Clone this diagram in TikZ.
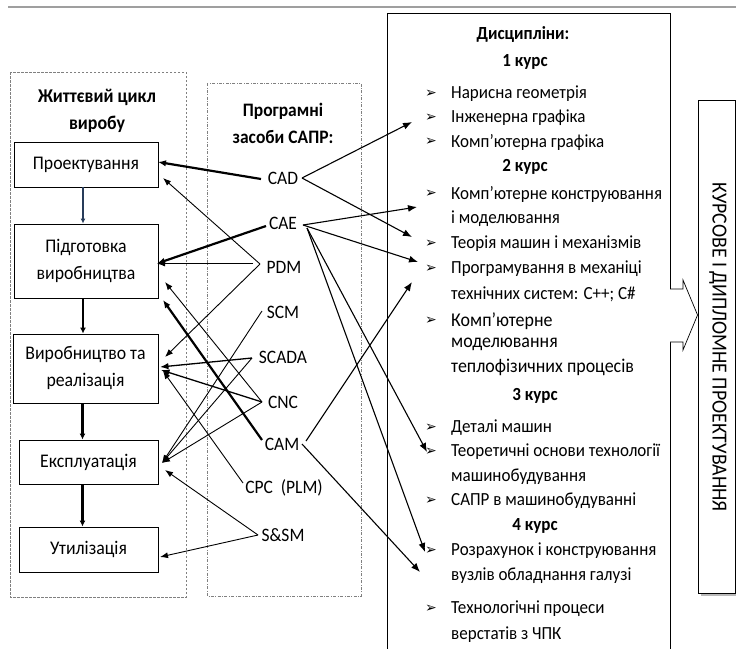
\documentclass[tikz,border=0pt]{standalone}
\usepackage{fontspec}
\setmainfont{Carlito}[FakeStretch=0.92]
\newfontfamily\bulletfont{DejaVu Sans}
\usetikzlibrary{arrows.meta}
\begin{document}
\begin{tikzpicture}[x=1pt,y=-1pt,
  lcbox/.style={draw, line width=0.9pt, align=center, inner sep=0pt,
    font=\fontsize{19.3}{27}\selectfont},
  lbl/.style={font=\fontsize{19}{20}\selectfont, inner sep=0pt},
  title/.style={font=\bfseries\fontsize{19.5}{27}\selectfont, align=center, inner sep=0pt},
  itm/.style={anchor=west, font=\fontsize{18.5}{20}\selectfont, inner sep=0pt},
  bigitm/.style={anchor=west, font=\fontsize{19.5}{21}\selectfont, inner sep=0pt},
  hd/.style={font=\bfseries\fontsize{18.5}{20}\selectfont, inner sep=0pt},
  bul/.style={font=\bulletfont\fontsize{14}{14}\selectfont, inner sep=0pt},
  thinarr/.style={line width=0.9pt, -{Latex[length=8pt,width=6pt]}},
  medarr/.style={line width=1.3pt, -{Latex[length=8.5pt,width=6.5pt]}},
  thickarr/.style={line width=2.2pt, -{Latex[length=8pt,width=6.5pt]}},
  rarr/.style={line width=1.1pt, -{Latex[length=9pt,width=7pt]}},
  vbox/.style={line width=2.6pt, -{Latex[length=6pt,width=6pt]}}
]
\useasboundingbox (0,0) rectangle (736,648);

% top rule
\draw[gray!75, line width=1.2pt] (8,7) -- (736,7);

% group frames
\draw[gray, line width=0.6pt, dash pattern=on 2.5pt off 1.5pt] (10,72) rectangle (186,597);
\draw[gray, line width=0.6pt, dash pattern=on 3pt off 1.5pt on 0.8pt off 1.5pt] (207,83) rectangle (361,596);

% titles
\node[title] (t1) at (97,111) {Життєвий цикл\\виробу};
\node[title, font=\bfseries\fontsize{19}{27}\selectfont] (t2) at (283,123) {Програмні\\засоби САПР:};

% life-cycle boxes
\node[lcbox, minimum width=144pt, minimum height=45pt] (proj) at (86,164.5) {Проектування};
\node[lcbox, minimum width=144pt, minimum height=74pt] (pid) at (86,261) {Підготовка\\виробництва};
\node[lcbox, minimum width=145pt, minimum height=69pt] (vyr) at (85.5,368.5) {Виробництво та\\реалізація};
\node[lcbox, minimum width=139pt, minimum height=44pt] (eks) at (88.5,462) {Експлуатація};
\node[lcbox, minimum width=139pt, minimum height=45pt] (uti) at (88.5,549.5) {Утилізація};

\draw[line width=2pt, draw={rgb,255:red,40;green,60;blue,90}, -{Latex[length=5pt,width=5pt]}] ([xshift=-3pt]proj.south) -- ([xshift=-3pt]proj.south |- pid.north);
\draw[vbox] ([xshift=-3pt]pid.south) -- ([xshift=-3pt]pid.south |- vyr.north);
\draw[vbox] ([xshift=-3pt]vyr.south) -- ([xshift=-3pt]vyr.south |- eks.north);
\draw[vbox] ([xshift=-6pt]eks.south) -- ([xshift=-6pt]eks.south |- uti.north);

% CAD tool labels
\node[lbl] (CAD) at (283,178) {CAD};
\node[lbl] (CAE) at (283,223) {CAE};
\node[lbl] (PDM) at (284,267) {PDM};
\node[lbl] (SCM) at (283,312) {SCM};
\node[lbl] (SCADA) at (283,357) {SCADA};
\node[lbl] (CNC) at (283,402) {CNC};
\node[lbl] (CAM) at (282,444) {CAM};
\node[lbl] (CPC) at (284,488) {CPC~~(PLM)};
\node[lbl] (SSM) at (283,535) {S\&SM};

% fan points near the labels
\coordinate (cadW) at (261,179);
\coordinate (cadE) at (302,178);
\coordinate (caeW) at (266,226);
\coordinate (caeE) at (303,225);
\coordinate (caeE2) at (307,228);
\coordinate (pdmW) at (260,264);
\coordinate (pdmH) at (253,263.5);
\coordinate (scmW) at (262,311);
\coordinate (scadaW) at (252,358);
\coordinate (cncW) at (262,402);
\coordinate (camW) at (262,440);
\coordinate (camE) at (306,441);
\coordinate (camE2) at (302,444);
\coordinate (cpcW) at (243,483);
\coordinate (ssmW) at (258,535);

% tips at the life-cycle boxes
\coordinate (pA) at (158,162);
\coordinate (pB) at (163,178);
\coordinate (gA) at (157,263.5);
\coordinate (gB) at (165,282);
\coordinate (gC) at (163,300);
\coordinate (vA) at (165,357);
\coordinate (vB) at (160,367);
\coordinate (vC) at (161,370);
\coordinate (vD) at (163,371);
\coordinate (eA) at (162,463);
\coordinate (eB) at (165,470);
\coordinate (uA) at (160,557);

\draw[thickarr] (cadW) -- (pA);
\draw[thinarr] (pdmW) -- (pB);
\draw[thickarr] (caeW) -- (gA);
\draw[thinarr] (pdmH) -- (gA);
\draw[thinarr] (pdmW) -- (vA);
\draw[thinarr] (cncW) -- (gB);
\draw[thickarr] (camW) -- (gC);
\draw[medarr] (scadaW) -- (vB);
\draw[medarr] (cncW) -- (vC);
\draw[thinarr] (cpcW) -- (vD);
\draw[thinarr] (scmW) -- (eA);
\draw[thinarr] (scadaW) -- (eA);
\draw[thinarr] (cncW) -- (eA);
\draw[thinarr] (ssmW) -- (eB);
\draw[thinarr] (ssmW) -- (uA);

% disciplines frame
\draw[line width=0.9pt] (387,649) -- (387,13) -- (670,13) -- (670,649);

\node[hd] (dh) at (523,34) {Дисципліни:};
\node[hd] (c1) at (525,62) {1 курс};
\node[hd] (c2) at (525,167) {2 курс};
\node[hd] (c3) at (535,396) {3 курс};
\node[hd] (c4) at (535,526) {4 курс};

\def\bx{431}
\def\tx{451}
\node[bul] (b1) at (\bx,94) {➢};   \node[itm] (i1) at (\tx,94) {Нарисна геометрія};
\node[bul] (b2) at (\bx,118) {➢};  \node[itm] (i2) at (\tx,118) {Інженерна графіка};
\node[bul] (b3) at (\bx,142) {➢};  \node[itm] (i3) at (\tx,142) {Комп’ютерна графіка};
\node[bul] (b4) at (\bx,194) {➢};  \node[itm] (i4) at (\tx,194) {Комп’ютерне конструювання};
\node[itm] (i4b) at (\tx,219) {і моделювання};
\node[bul] (b5) at (\bx,244) {➢};  \node[itm] (i5) at (\tx,244) {Теорія машин і механізмів};
\node[bul] (b6) at (\bx,269) {➢};  \node[itm] (i6) at (\tx,269) {Програмування в механіці};
\node[itm] (i6b) at (\tx,294) {технічних систем: C++; C\#};
\node[bul] (b7) at (\bx,321) {➢};  \node[bigitm] (i7) at (\tx,321) {Комп’ютерне};
\node[bigitm] (i7b) at (\tx,344) {моделювання};
\node[bigitm] (i7c) at (\tx,367) {теплофізичних процесів};
\node[bul] (b8) at (\bx,428) {➢};  \node[itm] (i8) at (\tx,428) {Деталі машин};
\node[bul] (b9) at (\bx,452) {➢};  \node[itm] (i9) at (\tx,452) {Теоретичні основи технології};
\node[itm] (i9b) at (\tx,477) {машинобудування};
\node[bul] (b10) at (\bx,501) {➢}; \node[itm] (i10) at (\tx,501) {САПР в машинобудуванні};
\node[bul] (b11) at (\bx,551) {➢}; \node[itm] (i11) at (\tx,551) {Розрахунок і конструювання};
\node[itm] (i11b) at (\tx,576) {вузлів обладнання галузі};
\node[bul] (b12) at (\bx,609) {➢}; \node[itm] (i12) at (\tx,609) {Технологічні процеси};
\node[itm] (i12b) at (\tx,635) {верстатів з ЧПК};

% tool -> discipline arrows
\coordinate (dA) at (412,122);
\coordinate (dB) at (412,237);
\coordinate (dC) at (417,207);
\coordinate (dD) at (418,262);
\coordinate (dE) at (427,452);
\coordinate (dF) at (425,552);
\coordinate (dG) at (412,282);
\coordinate (dH) at (420,572);
\draw[rarr] (cadE) -- (dA);
\draw[rarr] (cadE) -- (dB);
\draw[rarr] (caeE) -- (dC);
\draw[rarr] (caeE) -- (dD);
\draw[rarr] (caeE2) -- (dE);
\draw[rarr] (caeE2) -- (dF);
\draw[rarr] (camE) -- (dG);
\draw[rarr] (camE2) -- (dH);

% final project box
\fill[gray!55] (700.5,102.5) rectangle (738,595.5);
\node[draw, fill=white, line width=0.9pt, minimum width=37.5pt, minimum height=493pt, inner sep=0pt] (kp) at (716.75,346.5) {};
\node[rotate=-90, font=\fontsize{21.5}{22}\selectfont, inner sep=0pt] (kpt) at (718,347) {КУРСОВЕ І ДИПЛОМНЕ ПРОЕКТУВАННЯ};

% block arrow from disciplines to project box
\draw[line width=0.7pt, fill=white] (670,289) -- (683,289) -- (683,280) -- (kp.west |- 0,315) -- (683,350) -- (683,342) -- (670,342);
\end{tikzpicture}
\end{document}
